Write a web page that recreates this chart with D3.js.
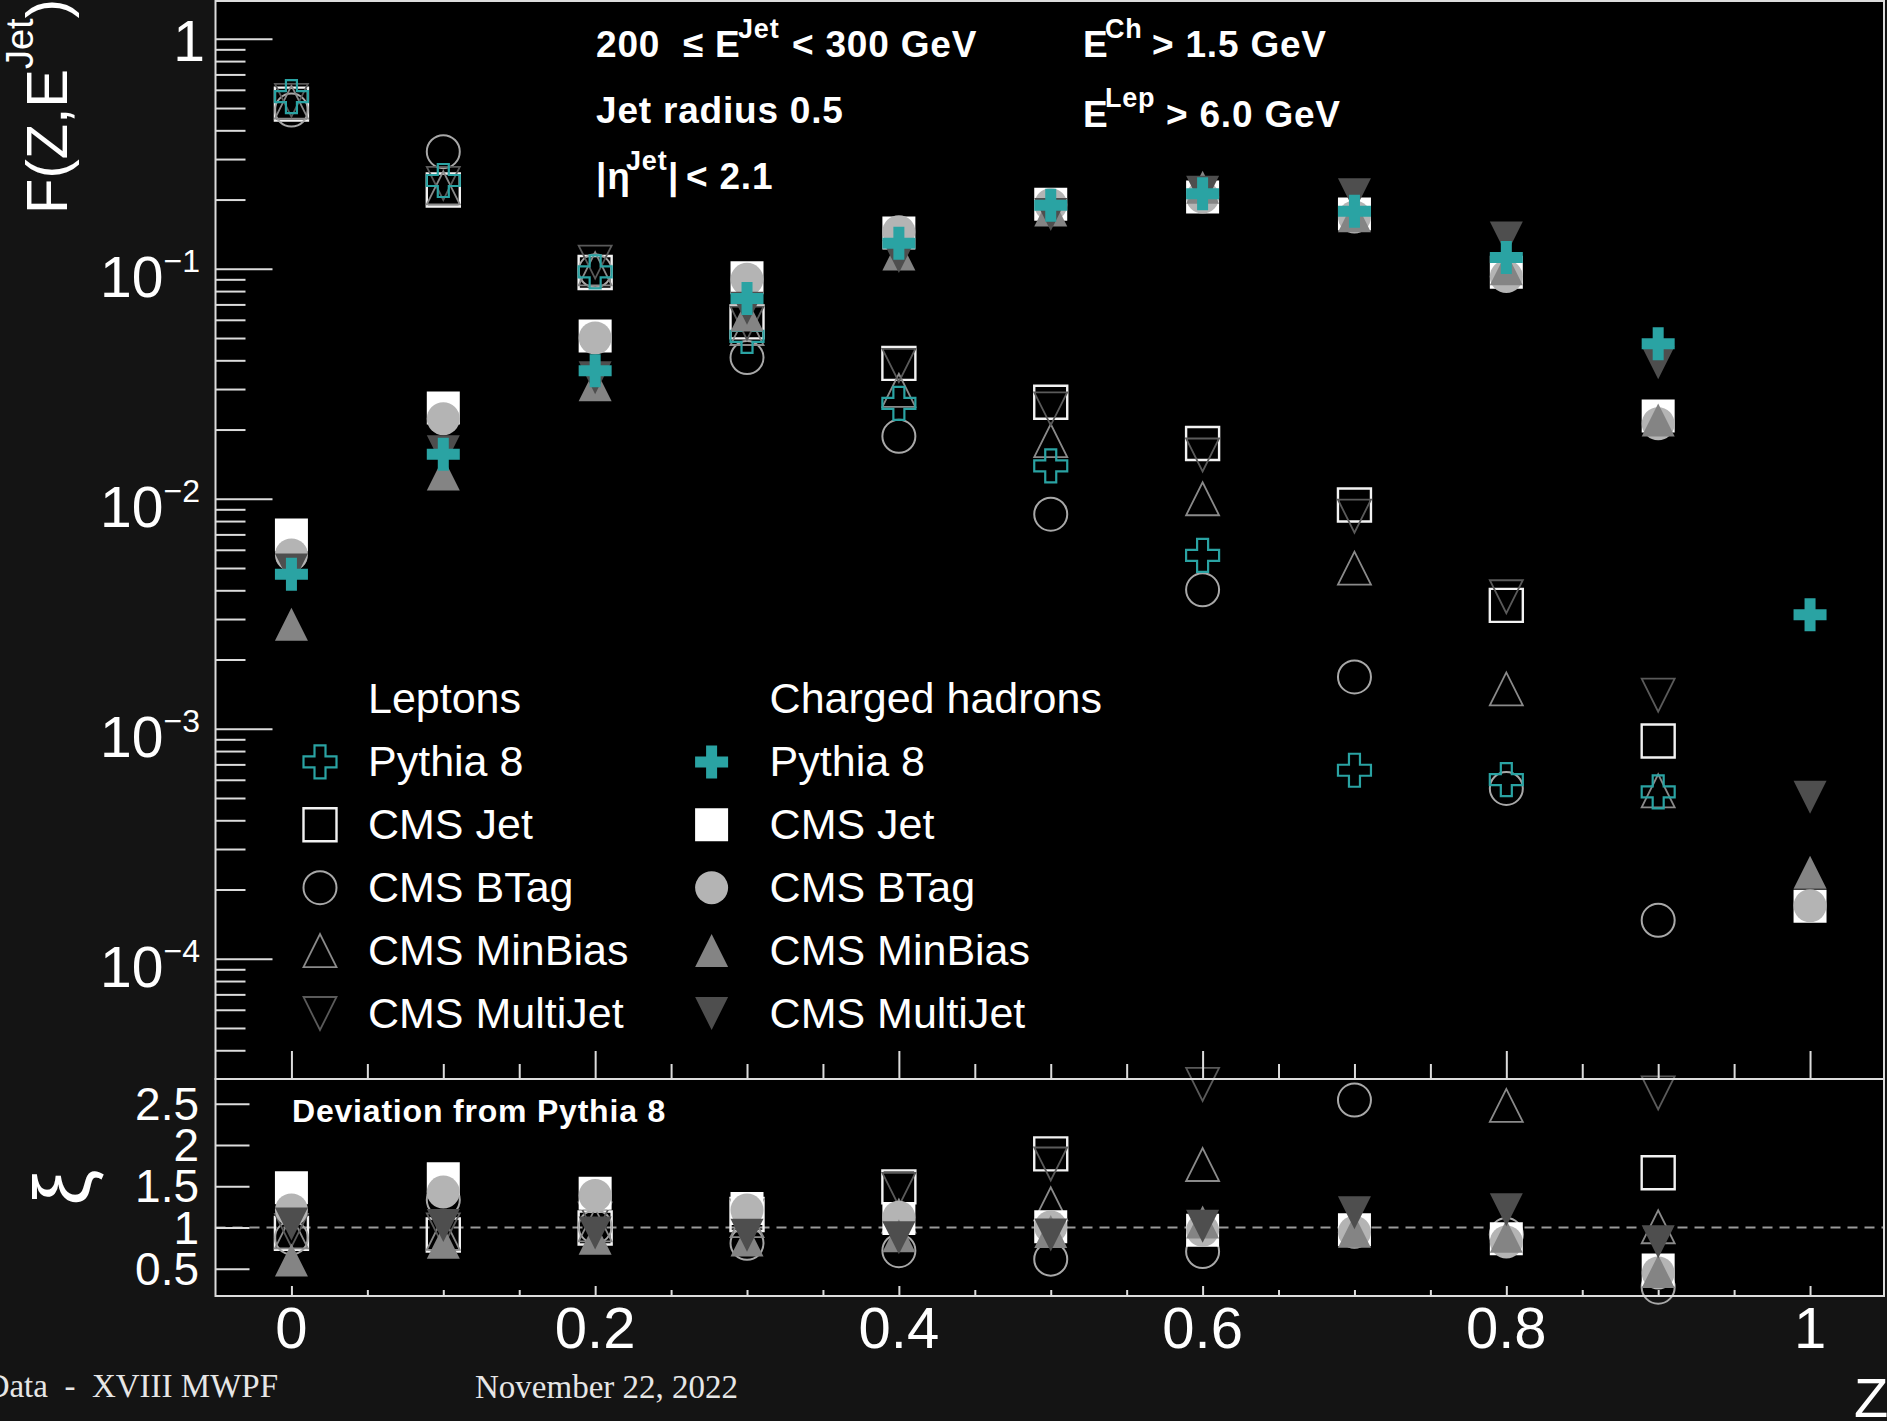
<!DOCTYPE html>
<html>
<head>
<meta charset="utf-8">
<script src="https://cdn.jsdelivr.net/npm/d3@7"></script>
<style>
  html, body { margin: 0; padding: 0; background: #141414; }
  svg { display: block; }
  text { font-family: "Liberation Sans", Arial, Helvetica, sans-serif; fill: #ffffff; }
  .bold { font-weight: bold; letter-spacing: 0.8px; }
  .serif { font-family: "Liberation Serif", "Times New Roman", serif; fill: #e6e6e6; white-space: pre; }
</style>
</head>
<body>
<svg id="chart" width="1887" height="1421"></svg>
<script>
// ---- data: fragmentation function F(Z, E^Jet), 200 <= E^Jet < 300 GeV ----
const zValues = [0, 0.1, 0.2, 0.3, 0.4, 0.5, 0.6, 0.7, 0.8, 0.9, 1.0];

// Leptons (open markers)
const lepPythia   = [0.56, 0.242, 0.097, 0.0508, 0.026, 0.0139, 0.00567, 0.00066, 0.000601, 0.000532, null];
const lepJet      = [0.52, 0.22, 0.0964, 0.0588, 0.0388, 0.0263, 0.0174, 0.0094, 0.00344, 0.000885, null];
const lepBTag     = [0.49, 0.323, 0.098, 0.0411, 0.0187, 0.00857, 0.00402, 0.00168, 0.00055, 0.000147, null];
const lepMinBias  = [0.53, 0.225, 0.100, 0.055, 0.0296, 0.0179, 0.0100, 0.00499, 0.00149, 0.000537, null];
const lepMultiJet = [0.54, 0.235, 0.107, 0.058, 0.038, 0.0246, 0.0155, 0.0084, 0.00375, 0.0014, null];

// Charged hadrons (filled markers)
const hadPythia   = [0.0047, 0.0156, 0.036, 0.0743, 0.129, 0.189, 0.212, 0.178, 0.112, 0.0472, 0.00313];
const hadJet      = [0.00696, 0.0248, 0.051, 0.0915, 0.143, 0.191, 0.205, 0.173, 0.0966, 0.0229, 0.000169];
const hadBTag     = [0.0057, 0.0223, 0.050, 0.090, 0.145, 0.190, 0.205, 0.168, 0.0925, 0.0212, 0.00017];
const hadMinBias  = [0.00285, 0.0128, 0.0313, 0.063, 0.116, 0.180, 0.226, 0.170, 0.100, 0.022, 0.000238];
const hadMultiJet = [0.0049, 0.016, 0.0336, 0.0674, 0.113, 0.172, 0.215, 0.210, 0.136, 0.039, 0.000504];

// axis ticks and labels
const xTickValues   = [0, 0.2, 0.4, 0.6, 0.8, 1.0];
const xTickLabels   = ["0", "0.2", "0.4", "0.6", "0.8", "1"];
const mainYTicks    = [1, 1e-1, 1e-2, 1e-3, 1e-4];
const mainYBases    = ["1", "10", "10", "10", "10"];
const mainYExps     = ["", "\u22121", "\u22122", "\u22123", "\u22124"];
const ratioYTicks   = [0.5, 1, 1.5, 2, 2.5];
const ratioYLabels  = ["0.5", "1", "1.5", "2", "2.5"];

// ---- layout ----
const W = 1887, H = 1421;
const frame = { left: 215.5, right: 1884, top: 1, split: 1079, bottom: 1296 };
const teal = "#2aa3a3";

const svg = d3.select("#chart");
svg.append("rect").attr("width", W).attr("height", H).attr("fill", "#141414");
svg.append("rect")
  .attr("x", frame.left).attr("y", 0)
  .attr("width", frame.right - frame.left).attr("height", frame.bottom)
  .attr("fill", "#000");

const x = d3.scaleLinear().domain([-0.05, 1.0487]).range([frame.left, frame.right]);
const yMain = d3.scaleLog().domain([3e-5, 1.46]).range([frame.split, frame.top]);
const yRatio = d3.scaleLinear().domain([0.17, 2.8]).range([frame.bottom, frame.split]);

// ---- markers ----
function markerPath(shape, s) {
  const h = s / 2, p = d3.path();
  if (shape === "square") {
    p.rect(-h, -h, s, s);
  } else if (shape === "circle") {
    p.moveTo(h, 0); p.arc(0, 0, h, 0, 2 * Math.PI); p.closePath();
  } else if (shape === "triUp") {
    p.moveTo(-h, h); p.lineTo(h, h); p.lineTo(0, -h); p.closePath();
  } else if (shape === "triDown") {
    p.moveTo(-h, -h); p.lineTo(h, -h); p.lineTo(0, h); p.closePath();
  } else if (shape === "cross") {
    const a = s / 6;
    p.moveTo(-a, -h); p.lineTo(a, -h); p.lineTo(a, -a); p.lineTo(h, -a);
    p.lineTo(h, a); p.lineTo(a, a); p.lineTo(a, h); p.lineTo(-a, h);
    p.lineTo(-a, a); p.lineTo(-h, a); p.lineTo(-h, -a); p.lineTo(-a, -a);
    p.closePath();
  }
  return p.toString();
}

const openStyle = {
  cross:   { fill: "none", stroke: teal,      sw: 2.2 },
  square:  { fill: "none", stroke: "#f2f2f2", sw: 2.4 },
  circle:  { fill: "none", stroke: "#a8a8a8", sw: 2.0 },
  triUp:   { fill: "none", stroke: "#8a8a8a", sw: 1.8 },
  triDown: { fill: "none", stroke: "#5a5a5a", sw: 1.8 }
};
const filledStyle = {
  cross:   { fill: teal,      stroke: "none", sw: 0 },
  square:  { fill: "#ffffff", stroke: "none", sw: 0 },
  circle:  { fill: "#b4b4b4", stroke: "none", sw: 0 },
  triUp:   { fill: "#848484", stroke: "none", sw: 0 },
  triDown: { fill: "#4e4e4e", stroke: "none", sw: 0 }
};

const labels = ["Pythia 8", "CMS Jet", "CMS BTag", "CMS MinBias", "CMS MultiJet"];
const shapes = ["cross", "square", "circle", "triUp", "triDown"];
const lepSeries = [lepPythia, lepJet, lepBTag, lepMinBias, lepMultiJet];
const hadSeries = [hadPythia, hadJet, hadBTag, hadMinBias, hadMultiJet];

const groups = [
  { key: "lep", series: lepSeries, styles: openStyle },
  { key: "had", series: hadSeries, styles: filledStyle }
];

const MS = 33;           // marker size
const drawOrder = [1, 2, 3, 4, 0];  // Jet, BTag, MinBias, MultiJet, then Pythia on top

// ratio panel reference line
svg.append("line")
  .attr("x1", frame.left).attr("x2", frame.right)
  .attr("y1", yRatio(1)).attr("y2", yRatio(1))
  .attr("stroke", "#9a9a9a").attr("stroke-width", 2)
  .attr("stroke-dasharray", "10,7");

const mainLayer = svg.append("g");
const ratioLayer = svg.append("g");

groups.forEach(g => {
  drawOrder.forEach(i => {
    const vals = g.series[i];
    const st = g.styles[shapes[i]];
    const pts = zValues.map((z, k) => ({ z, v: vals[k] }))
      .filter(d => d.v != null && d.v >= yMain.domain()[0] && d.v <= yMain.domain()[1]);
    mainLayer.selectAll(null).data(pts).enter().append("path")
      .attr("d", markerPath(shapes[i], MS))
      .attr("transform", d => `translate(${x(d.z)},${yMain(d.v)})`)
      .attr("fill", st.fill).attr("stroke", st.stroke).attr("stroke-width", st.sw);

    if (i === 0) return;
    const ref = g.series[0];
    const rpts = zValues.map((z, k) => ({ z, r: (vals[k] != null && ref[k]) ? vals[k] / ref[k] : null }))
      .filter(d => d.r != null && d.r >= yRatio.domain()[0] && d.r <= yRatio.domain()[1]);
    ratioLayer.selectAll(null).data(rpts).enter().append("path")
      .attr("d", markerPath(shapes[i], MS))
      .attr("transform", d => `translate(${x(d.z)},${yRatio(d.r)})`)
      .attr("fill", st.fill).attr("stroke", st.stroke).attr("stroke-width", st.sw);
  });
});

// ---- axes (inward ROOT-style ticks) ----
const tickColor = "#dcdcdc";
function styleAxis(sel) {
  sel.select(".domain").remove();
  sel.selectAll("line").attr("stroke", tickColor).attr("stroke-width", 2);
  sel.selectAll("text").remove();
}

const minorMain = [];
for (let e = -5; e <= 0; e++) for (let m = 2; m <= 9; m++) {
  const v = m * Math.pow(10, e);
  if (v > yMain.domain()[0] * 1.001 && v < yMain.domain()[1]) minorMain.push(v);
}
svg.append("g").attr("transform", `translate(${frame.left},0)`)
  .call(d3.axisLeft(yMain).tickValues(mainYTicks).tickSizeInner(-57).tickSizeOuter(0).tickFormat(""))
  .call(styleAxis);
svg.append("g").attr("transform", `translate(${frame.left},0)`)
  .call(d3.axisLeft(yMain).tickValues(minorMain).tickSizeInner(-30).tickSizeOuter(0).tickFormat(""))
  .call(styleAxis);

svg.append("g").attr("transform", `translate(${frame.left},0)`)
  .call(d3.axisLeft(yRatio).tickValues(ratioYTicks).tickSizeInner(-34).tickSizeOuter(0).tickFormat(""))
  .call(styleAxis);

const xMinor = d3.range(1, 20).map(k => k * 0.05).filter(v => Math.abs(v / 0.2 - Math.round(v / 0.2)) > 1e-6);
svg.append("g").attr("transform", `translate(0,${frame.split})`)
  .call(d3.axisBottom(x).tickValues(xTickValues).tickSizeInner(-28).tickSizeOuter(0).tickFormat(""))
  .call(styleAxis);
svg.append("g").attr("transform", `translate(0,${frame.split})`)
  .call(d3.axisBottom(x).tickValues(xMinor).tickSizeInner(-15).tickSizeOuter(0).tickFormat(""))
  .call(styleAxis);
svg.append("g").attr("transform", `translate(0,${frame.bottom})`)
  .call(d3.axisBottom(x).tickValues(xTickValues).tickSizeInner(-10).tickSizeOuter(0).tickFormat(""))
  .call(styleAxis);
svg.append("g").attr("transform", `translate(0,${frame.bottom})`)
  .call(d3.axisBottom(x).tickValues(xMinor).tickSizeInner(-6).tickSizeOuter(0).tickFormat(""))
  .call(styleAxis);

// frames
[[frame.top, frame.split], [frame.split, frame.bottom]].forEach(([t, b]) => {
  svg.append("rect")
    .attr("x", frame.left).attr("y", t)
    .attr("width", frame.right - frame.left).attr("height", b - t)
    .attr("fill", "none").attr("stroke", tickColor).attr("stroke-width", 2);
});

// ---- tick labels ----
xTickValues.forEach((v, i) => {
  svg.append("text").attr("x", x(v)).attr("y", 1348)
    .attr("text-anchor", "middle").attr("font-size", 58).text(xTickLabels[i]);
});
ratioYTicks.forEach((v, i) => {
  svg.append("text").attr("x", 199).attr("y", yRatio(v) + 16)
    .attr("text-anchor", "end").attr("font-size", 46).text(ratioYLabels[i]);
});
mainYTicks.forEach((v, i) => {
  const t = svg.append("text").attr("text-anchor", "end").attr("font-size", 57);
  if (mainYExps[i] === "") {
    t.attr("x", 205).attr("y", yMain(v) + 22).text(mainYBases[i]);
  } else {
    t.attr("x", 200).attr("y", yMain(v) + 28);
    t.append("tspan").text(mainYBases[i]);
    t.append("tspan").attr("font-size", 32).attr("dy", -25).text(mainYExps[i]);
  }
});

// ---- axis titles ----
const yTitle = svg.append("text")
  .attr("transform", "translate(67,214) rotate(-90)")
  .attr("font-size", 58);
yTitle.append("tspan").text("F(Z,E");
yTitle.append("tspan").attr("font-size", 38).attr("dy", -34).text("Jet");
yTitle.append("tspan").attr("dy", 34).text(")");

svg.append("text")
  .attr("transform", `translate(90,${(frame.split + frame.bottom) / 2}) rotate(-90)`)
  .attr("text-anchor", "middle").attr("font-size", 80).text("\u03BE");

svg.append("text").attr("x", 1854).attr("y", 1417).attr("font-size", 56).text("Z");

// ---- kinematic selection text ----
function richText(parts) {
  const t = svg.append("text").attr("class", "bold");
  parts.forEach(p => {
    t.append("tspan").attr("x", p.x).attr("y", p.y).attr("font-size", p.s).text(p.t);
  });
}
richText([
  { t: "200", x: 596, y: 57, s: 37 },
  { t: "\u2264", x: 683, y: 57, s: 37 },
  { t: "E", x: 715, y: 57, s: 37 },
  { t: "Jet", x: 738, y: 38, s: 27 },
  { t: "< 300 GeV", x: 792, y: 57, s: 37 }
]);
richText([
  { t: "E", x: 1083, y: 57, s: 37 },
  { t: "Ch", x: 1105, y: 38, s: 27 },
  { t: "> 1.5 GeV", x: 1152, y: 57, s: 37 }
]);
richText([{ t: "Jet radius 0.5", x: 596, y: 123, s: 37 }]);
richText([
  { t: "E", x: 1083, y: 127, s: 37 },
  { t: "Lep", x: 1105, y: 107, s: 27 },
  { t: "> 6.0 GeV", x: 1166, y: 127, s: 37 }
]);
richText([
  { t: "|\u03B7", x: 596, y: 189, s: 37 },
  { t: "Jet", x: 626, y: 170, s: 27 },
  { t: "|", x: 668, y: 189, s: 37 },
  { t: "< 2.1", x: 686, y: 189, s: 37 }
]);

svg.append("text").attr("class", "bold").attr("x", 292).attr("y", 1122)
  .attr("font-size", 32).attr("letter-spacing", "0.5px").text("Deviation from Pythia 8");

// ---- legend ----
const legendCols = [
  { title: "Leptons", mx: 320, tx: 368, styles: openStyle },
  { title: "Charged hadrons", mx: 711.6, tx: 769.6, styles: filledStyle }
];
const legendTop = 713, legendStep = 62.9;
legendCols.forEach(col => {
  svg.append("text").attr("x", col.tx).attr("y", legendTop).attr("font-size", 43).text(col.title);
  labels.forEach((lab, i) => {
    const base = legendTop + (i + 1) * legendStep;
    const st = col.styles[shapes[i]];
    svg.append("path")
      .attr("d", markerPath(shapes[i], MS))
      .attr("transform", `translate(${col.mx},${base - 14})`)
      .attr("fill", st.fill).attr("stroke", st.stroke).attr("stroke-width", st.sw);
    svg.append("text").attr("x", col.tx).attr("y", base).attr("font-size", 43).text(lab);
  });
});

// ---- slide footer ----
svg.append("text").attr("class", "serif").attr("x", 278).attr("y", 1397)
  .attr("text-anchor", "end").attr("font-size", 33).text("Data  -  XVIII MWPF");
svg.append("text").attr("class", "serif").attr("x", 475).attr("y", 1398)
  .attr("font-size", 33).text("November 22, 2022");
</script>
</body>
</html>
